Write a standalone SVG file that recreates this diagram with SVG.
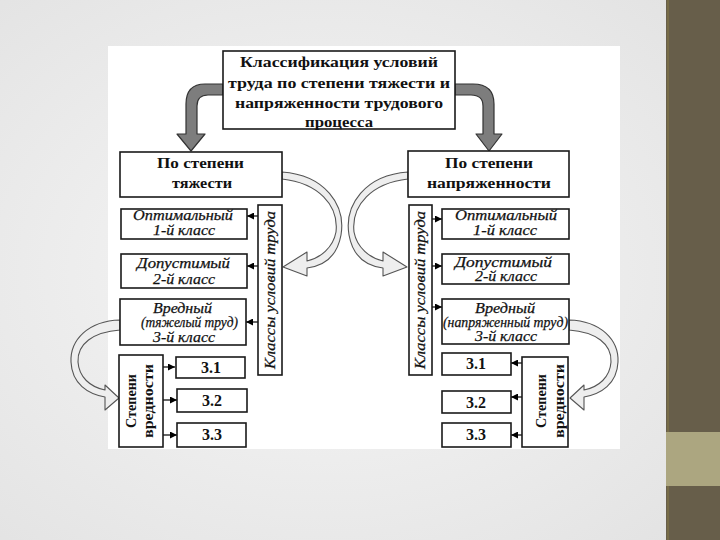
<svg xmlns="http://www.w3.org/2000/svg" width="720" height="540" viewBox="0 0 720 540">
<defs>
<radialGradient id="bg" cx="0.45" cy="0.5" r="0.7">
<stop offset="0" stop-color="#f7f7f7"/>
<stop offset="1" stop-color="#e3e3e3"/>
</radialGradient>
<marker id="ah" viewBox="0 0 8 8" refX="8" refY="4" markerWidth="7" markerHeight="7" markerUnits="userSpaceOnUse" orient="auto">
<path d="M0,0 L8,4 L0,8 Z" fill="#000"/>
</marker>
<style>
.box{fill:#fff;stroke:#1a1a1a;stroke-width:1.6}
.hb{font-family:"Liberation Serif","DejaVu Serif",serif;font-weight:bold;fill:#111}
.it{font-family:"Liberation Serif","DejaVu Serif",serif;font-style:italic;fill:#111;stroke:#111;stroke-width:0.25}
.con{stroke:#000;stroke-width:1.2;fill:none;marker-end:url(#ah)}
.big{fill:#7d7d7d;stroke:#333;stroke-width:1.2;stroke-linejoin:round}
.hol{fill:#eeeeee;stroke:#555;stroke-width:1.1;stroke-linejoin:round}
</style>
</defs>
<rect width="720" height="540" fill="url(#bg)"/>
<rect x="666" y="0" width="54" height="540" fill="#675e4a"/>
<rect x="667" y="0" width="2" height="540" fill="#776c48"/>
<rect x="666" y="432" width="54" height="54" fill="#aca680"/>
<rect x="108" y="46" width="512" height="403" fill="#fff"/>

<g id="connectors">
<path class="big" d="M223,84 L205,84 Q186,84 186,104 L186,134 L177,134 L191,151 L205,134 L197,134 L197,106 Q197,95 208,95 L223,95 Z"/>
<path class="big" d="M455,84 L473,84 Q494,84 494,104 L494,134 L502,134 L489,151 L476,134 L483,134 L483,106 Q483,95 471,95 L455,95 Z"/>
<path class="hol" d="M282,172 C325,175 346,205 341,235 C337,257 323,266 307,268 L307,276 L283,267 L307,252 L307,261 C320,258 333,248 336,232 C339,205 318,183 282,179 Z"/>
<path class="hol" d="M408,172 C365,175 344,205 349,235 C353,257 367,266 383,268 L383,276 L407,267 L383,252 L383,261 C370,258 357,248 354,232 C351,205 372,183 408,179 Z"/>
<path class="hol" d="M120,320 C88,321 70,340 71,362 C72,384 88,394 105,397 L105,410 L119,398 L105,385 L105,390 C90,387 79,377 78,362 C77,344 93,332 120,330 Z"/>
<path class="hol" d="M569,320 C601,321 619,340 618,362 C617,384 601,394 584,397 L584,410 L570,398 L584,385 L584,390 C599,387 610,377 611,362 C612,344 596,332 569,330 Z"/>
<path class="con" d="M258,216 L247,216"/>
<path class="con" d="M258,266 L247,266"/>
<path class="con" d="M258,322 L246,322"/>
<path class="con" d="M432,219 L442,219"/>
<path class="con" d="M432,266 L442,266"/>
<path class="con" d="M432,307 L442,307"/>
<path class="con" d="M163,367 L175,367"/>
<path class="con" d="M163,400 L177,400"/>
<path class="con" d="M163,435 L177,435"/>
<path class="con" d="M522,363 L511,363"/>
<path class="con" d="M522,397 L511,397"/>
<path class="con" d="M522,435 L511,435"/>
</g>

<g id="title">
<rect class="box" x="223" y="51" width="232" height="78"/>
<text class="hb" font-size="15.5" x="240" y="67" textLength="198" lengthAdjust="spacingAndGlyphs">Классификация  условий</text>
<text class="hb" font-size="15.5" x="228" y="88" textLength="222" lengthAdjust="spacingAndGlyphs">труда по степени тяжести и</text>
<text class="hb" font-size="15.5" x="235" y="108" textLength="208" lengthAdjust="spacingAndGlyphs">напряженности трудового</text>
<text class="hb" font-size="15.5" x="305" y="127" textLength="68" lengthAdjust="spacingAndGlyphs">процесса</text>
</g>

<g id="heavy">
<rect class="box" x="120" y="152" width="162" height="45"/>
<text class="hb" font-size="15.5" x="157" y="168" textLength="87" lengthAdjust="spacingAndGlyphs">По степени</text>
<text class="hb" font-size="15.5" x="172" y="188" textLength="60" lengthAdjust="spacingAndGlyphs">тяжести</text>
</g>
<g id="tense">
<rect class="box" x="408" y="151" width="161" height="46"/>
<text class="hb" font-size="15.5" x="445" y="168" textLength="88" lengthAdjust="spacingAndGlyphs">По степени</text>
<text class="hb" font-size="15.5" x="427" y="188" textLength="124" lengthAdjust="spacingAndGlyphs">напряженности</text>
</g>

<g id="classes-left">
<rect class="box" x="258" y="205" width="24" height="170"/>
<text class="it" font-size="14" transform="translate(275,290) rotate(-90)" text-anchor="middle" textLength="158" lengthAdjust="spacingAndGlyphs">Классы условий труда</text>
</g>
<g id="classes-right">
<rect class="box" x="409" y="205" width="23" height="170"/>
<text class="it" font-size="14" transform="translate(425,290) rotate(-90)" text-anchor="middle" textLength="158" lengthAdjust="spacingAndGlyphs">Классы условий труда</text>
</g>

<g id="l-opt">
<rect class="box" x="121" y="209" width="126" height="30"/>
<text class="it" font-size="14" x="133" y="220" textLength="100" lengthAdjust="spacingAndGlyphs">Оптимальный</text>
<text class="it" font-size="14" x="153" y="235" textLength="62" lengthAdjust="spacingAndGlyphs">1-й класс</text>
</g>
<g id="l-dop">
<rect class="box" x="121" y="254" width="126" height="34"/>
<text class="it" font-size="14" x="137" y="268" textLength="93" lengthAdjust="spacingAndGlyphs">Допустимый</text>
<text class="it" font-size="14" x="153" y="284" textLength="62" lengthAdjust="spacingAndGlyphs">2-й класс</text>
</g>
<g id="l-vred">
<rect class="box" x="120" y="299" width="126" height="46"/>
<text class="it" font-size="14" x="153" y="313" textLength="59" lengthAdjust="spacingAndGlyphs">Вредный</text>
<text class="it" font-size="14" x="141" y="327" textLength="97" lengthAdjust="spacingAndGlyphs">(тяжелый труд)</text>
<text class="it" font-size="14" x="153" y="342" textLength="62" lengthAdjust="spacingAndGlyphs">3-й класс</text>
</g>

<g id="r-opt">
<rect class="box" x="442" y="209" width="127" height="30"/>
<text class="it" font-size="14" x="455" y="220" textLength="102" lengthAdjust="spacingAndGlyphs">Оптимальный</text>
<text class="it" font-size="14" x="473" y="235" textLength="64" lengthAdjust="spacingAndGlyphs">1-й класс</text>
</g>
<g id="r-dop">
<rect class="box" x="442" y="254" width="127" height="30"/>
<text class="it" font-size="14" x="455" y="267" textLength="97" lengthAdjust="spacingAndGlyphs">Допустимый</text>
<text class="it" font-size="14" x="475" y="281" textLength="62" lengthAdjust="spacingAndGlyphs">2-й класс</text>
</g>
<g id="r-vred">
<rect class="box" x="442" y="299" width="127" height="45"/>
<text class="it" font-size="14" x="475" y="313" textLength="60" lengthAdjust="spacingAndGlyphs">Вредный</text>
<text class="it" font-size="14" x="443" y="327" textLength="125" lengthAdjust="spacingAndGlyphs">(напряженный труд)</text>
<text class="it" font-size="14" x="475" y="341" textLength="62" lengthAdjust="spacingAndGlyphs">3-й класс</text>
</g>

<g id="l-steps">
<rect class="box" x="119" y="355" width="44" height="92"/>
<text class="hb" font-size="14.5" transform="translate(136,401) rotate(-90)" text-anchor="middle" textLength="54" lengthAdjust="spacingAndGlyphs">Степени</text>
<text class="hb" font-size="14.5" transform="translate(153,401) rotate(-90)" text-anchor="middle" textLength="74" lengthAdjust="spacingAndGlyphs">вредности</text>
</g>
<g id="r-steps">
<rect class="box" x="522" y="357" width="46" height="90"/>
<text class="hb" font-size="14.5" transform="translate(546,401) rotate(-90)" text-anchor="middle" textLength="54" lengthAdjust="spacingAndGlyphs">Степени</text>
<text class="hb" font-size="14.5" transform="translate(564,401) rotate(-90)" text-anchor="middle" textLength="74" lengthAdjust="spacingAndGlyphs">вредности</text>
</g>

<g id="l-31"><rect class="box" x="176" y="357" width="69" height="21"/><text class="hb" font-size="16" x="211" y="373" text-anchor="middle">3.1</text></g>
<g id="l-32"><rect class="box" x="177" y="389" width="70" height="23"/><text class="hb" font-size="16" x="212" y="406" text-anchor="middle">3.2</text></g>
<g id="l-33"><rect class="box" x="177" y="423" width="69" height="24"/><text class="hb" font-size="16" x="212" y="440" text-anchor="middle">3.3</text></g>
<g id="r-31"><rect class="box" x="442" y="353" width="69" height="22"/><text class="hb" font-size="16" x="476" y="369" text-anchor="middle">3.1</text></g>
<g id="r-32"><rect class="box" x="442" y="391" width="69" height="22"/><text class="hb" font-size="16" x="476" y="408" text-anchor="middle">3.2</text></g>
<g id="r-33"><rect class="box" x="442" y="423" width="69" height="24"/><text class="hb" font-size="16" x="476" y="440" text-anchor="middle">3.3</text></g>
</svg>
